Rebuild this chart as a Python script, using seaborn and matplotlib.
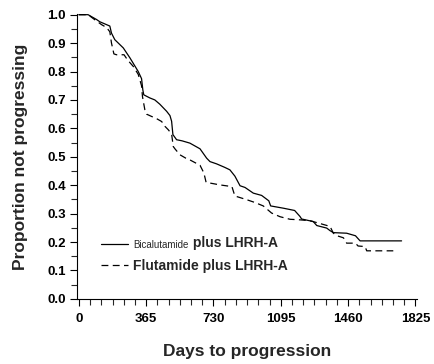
import numpy as np
import pandas as pd
import seaborn as sns
import matplotlib.pyplot as plt

# Kaplan-Meier style curves
bica_days = [0, 50, 96, 114, 150, 168, 177, 195, 241, 277, 322, 340, 347, 352, 385, 412,
             439, 476, 494, 503, 510, 530, 560, 602, 657, 693, 711, 747, 790, 819, 846, 874,
             901, 946, 991, 1030, 1040, 1109, 1170, 1199, 1208, 1271, 1290, 1344, 1362, 1380,
             1452, 1500, 1525, 1750]
bica_prop = [1.0, 1.0, 0.983, 0.975, 0.965, 0.960, 0.935, 0.912, 0.883, 0.848, 0.800, 0.775,
             0.735, 0.718, 0.707, 0.700, 0.685, 0.660, 0.645, 0.625, 0.578, 0.560, 0.556, 0.548,
             0.528, 0.495, 0.483, 0.475, 0.463, 0.454, 0.432, 0.398, 0.392, 0.372, 0.364, 0.345,
             0.327, 0.319, 0.311, 0.290, 0.281, 0.272, 0.258, 0.249, 0.240, 0.233, 0.231, 0.222,
             0.204, 0.204]

flut_days = [0, 50, 87, 123, 150, 168, 177, 190, 204, 245, 265, 295, 322, 340, 345, 358, 367,
             394, 422, 449, 467, 485, 503, 512, 521, 548, 580, 602, 657, 678, 690, 765, 830,
             846, 910, 955, 1000, 1045, 1091, 1145, 1199, 1253, 1308, 1362, 1380, 1400, 1434,
             1447, 1452, 1500, 1514, 1552, 1561, 1705]
flut_prop = [1.0, 1.0, 0.982, 0.965, 0.955, 0.940, 0.900, 0.862, 0.859, 0.859, 0.840, 0.818,
             0.790, 0.750, 0.712, 0.665, 0.650, 0.642, 0.634, 0.624, 0.607, 0.595, 0.580, 0.536,
             0.528, 0.507, 0.495, 0.489, 0.470, 0.443, 0.410, 0.401, 0.395, 0.362, 0.349, 0.339,
             0.327, 0.302, 0.289, 0.280, 0.278, 0.275, 0.265, 0.255, 0.231, 0.222, 0.215, 0.205,
             0.196, 0.196, 0.186, 0.184, 0.169, 0.169]

x_ticks = [0, 365, 730, 1095, 1460, 1825]
y_ticks = [0.0, 0.1, 0.2, 0.3, 0.4, 0.5, 0.6, 0.7, 0.8, 0.9, 1.0]

sns.set_style("ticks")
plt.rcParams["font.family"] = ["Liberation Sans", "DejaVu Sans"]

fig = plt.figure(figsize=(4.34, 3.64), dpi=100)
ax = fig.add_axes([0.177, 0.179, 0.784, 0.783])

sns.lineplot(x=bica_days, y=bica_prop, ax=ax, color="black", lw=0.9,
             estimator=None, sort=False, label="Bicalutamide")
sns.lineplot(x=flut_days, y=flut_prop, ax=ax, color="black", lw=0.9,
             estimator=None, sort=False, label="Flutamide plus LHRH-A")
ax.lines[1].set_dashes((5.5, 3.5))

ax.set_xlim(-11, 1834)
ax.set_ylim(0, 1.003)
ax.set_xticks(x_ticks)
ax.set_xticks(np.arange(0, 1826, 365 / 6), minor=True)
ax.set_yticks(y_ticks)
ax.set_yticks(np.arange(0, 1.01, 0.05), minor=True)
ax.set_yticklabels([f"{v:.1f}" for v in y_ticks])
ax.tick_params(which="major", length=5, width=0.8, labelsize=9.5, colors="black", pad=3)
ax.tick_params(axis="x", which="major", pad=5)
ax.tick_params(which="minor", length=4, width=0.8)
for lab in ax.get_xticklabels() + ax.get_yticklabels():
    lab.set_fontweight("bold")

for side in ["top", "right"]:
    ax.spines[side].set_visible(False)
for side in ["left", "bottom"]:
    ax.spines[side].set_linewidth(0.8)
    ax.spines[side].set_color("black")

ax.set_xlabel("Days to progression", fontsize=12.5, fontweight="bold", labelpad=14)
ax.set_ylabel("Proportion not progressing", fontsize=12.5, fontweight="bold", labelpad=14)

leg = ax.legend(loc="upper left", bbox_to_anchor=(0.035, 0.255), frameon=False,
                handlelength=1.95, handletextpad=0.36, labelspacing=0.6,
                prop={"size": 10, "weight": "bold"})
first = leg.get_texts()[0]
first.set_fontsize(7)
first.set_fontweight("normal")
ax.annotate(" plus LHRH-A", xy=(1, 0), xycoords=first, va="bottom",
            fontsize=10, fontweight="bold", zorder=10)

fig.savefig("out.png", dpi=100)
